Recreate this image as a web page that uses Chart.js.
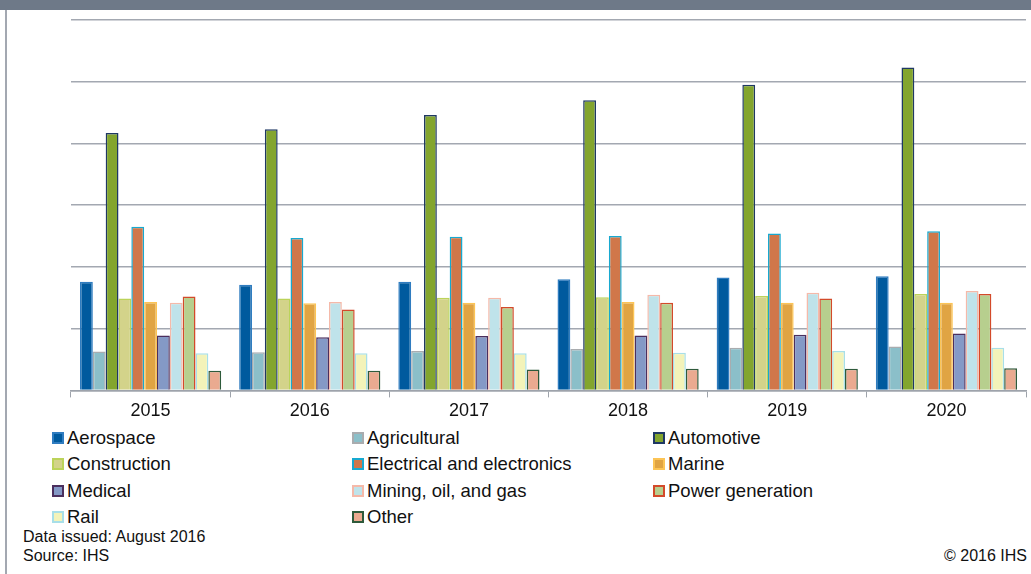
<!DOCTYPE html>
<html>
<head>
<meta charset="utf-8">
<script src="https://cdn.jsdelivr.net/npm/chart.js@4.4.0/dist/chart.umd.min.js"></script>
<style>
    body { margin: 0; width: 1031px; height: 574px; background: #fff; font-family: "Liberation Sans", Arial, sans-serif; position: relative; overflow: hidden; }
    #barraTitulo { position: absolute; left: 0; top: 0; width: 1031px; height: 10px; background: #6e7988; }
    #bordaEsq { position: absolute; left: 5px; top: 10px; width: 2px; height: 564px; background: #a3a8b1; }
    #caixaGrafico { position: absolute; left: 0; top: 10px; width: 1031px; height: 415px; }
    #legenda { position: absolute; left: 52px; top: 427px; display: grid; grid-template-columns: 300px 301px 300px; row-gap: 5px; font-size: 18.5px; color: #111; }
    .item { display: flex; align-items: center; height: 21.5px; }
    .caixa { width: 8px; height: 8px; border: 2px solid; margin-right: 3px; }
    .rodape { position: absolute; font-size: 16px; color: #111; }
</style>
</head>
<body>
<div id="barraTitulo"></div>
<div id="bordaEsq"></div>
<div id="caixaGrafico"><canvas id="grafico"></canvas></div>
<div id="legenda"></div>
<div class="rodape" style="left:23px; top:528px;">Data issued: August 2016</div>
<div class="rodape" style="left:23px; top:547px;">Source: IHS</div>
<div class="rodape" style="right:4px; top:547px;">© 2016 IHS</div>
<script>
// ===== DADOS =====
const anos = ['2015', '2016', '2017', '2018', '2019', '2020'];
const setores = ['Aerospace', 'Agricultural', 'Automotive', 'Construction', 'Electrical and electronics',
    'Marine', 'Medical', 'Mining, oil, and gas', 'Power generation', 'Rail', 'Other'];

const aerospace    = [1.76, 1.71, 1.76, 1.80, 1.83, 1.85];
const agricultural = [0.63, 0.62, 0.64, 0.67, 0.69, 0.71];
const automotive   = [4.17, 4.23, 4.46, 4.70, 4.95, 5.23];
const construction = [1.49, 1.49, 1.50, 1.51, 1.53, 1.56];
const electrical   = [2.65, 2.47, 2.49, 2.50, 2.54, 2.58];
const marine       = [1.43, 1.41, 1.42, 1.43, 1.42, 1.42];
const medical      = [0.89, 0.86, 0.88, 0.89, 0.90, 0.92];
const mining       = [1.42, 1.43, 1.50, 1.55, 1.58, 1.61];
const power        = [1.52, 1.31, 1.35, 1.42, 1.49, 1.56];
const rail         = [0.60, 0.60, 0.60, 0.61, 0.64, 0.69];
const other        = [0.32, 0.32, 0.34, 0.35, 0.35, 0.36];

const valores = [aerospace, agricultural, automotive, construction, electrical,
    marine, medical, mining, power, rail, other];

const coresFundo = ['#005a9e', '#8bbfc9', '#83a52e', '#d3d38a', '#d0774a',
    '#e0a443', '#8499c6', '#bfe3ea', '#b7cf8e', '#f3f3b9', '#eaaa90'];
const coresBorda = ['#2f7cc0', '#a9acaf', '#1f3864', '#bcd35a', '#17a9d0',
    '#fcc455', '#4b2f5e', '#f5b9a9', '#d34a2a', '#a8dfe8', '#2e5a3b'];

// ===== GRÁFICO =====
const ctx = document.getElementById('grafico').getContext('2d');
new Chart(ctx, {
    type: 'bar',
    data: {
        labels: anos,
        datasets: setores.map((nome, i) => ({
            label: nome,
            data: valores[i],
            backgroundColor: coresFundo[i],
            borderColor: coresBorda[i],
            borderWidth: 1.5,
            categoryPercentage: 0.887,
            barPercentage: 1
        }))
    },
    options: {
        responsive: true,
        maintainAspectRatio: false,
        animation: false,
        layout: { padding: { left: 71, right: 5, top: 10, bottom: 0 } },
        plugins: { legend: { display: false }, tooltip: { enabled: false } },
        scales: {
            x: {
                grid: { drawOnChartArea: false, offset: true, tickLength: 7, color: '#9ea3ab', lineWidth: 1 },
                border: { color: '#9ea3ab', width: 1.5 },
                ticks: { color: '#111', font: { family: 'Liberation Sans', size: 18 }, padding: 3 }
            },
            y: {
                min: 0, max: 6,
                ticks: { display: false, stepSize: 1 },
                grid: { drawTicks: false, color: '#a3a8b1', lineWidth: 1.5 },
                border: { display: false }
            }
        }
    }
});

// ===== LEGENDA =====
const legenda = document.getElementById('legenda');
setores.forEach((nome, i) => {
    const item = document.createElement('div');
    item.className = 'item';
    item.innerHTML = '<span class="caixa" style="background:' + coresFundo[i] + ';border-color:' + coresBorda[i] + '"></span>' + nome;
    legenda.appendChild(item);
});
</script>
</body>
</html>
